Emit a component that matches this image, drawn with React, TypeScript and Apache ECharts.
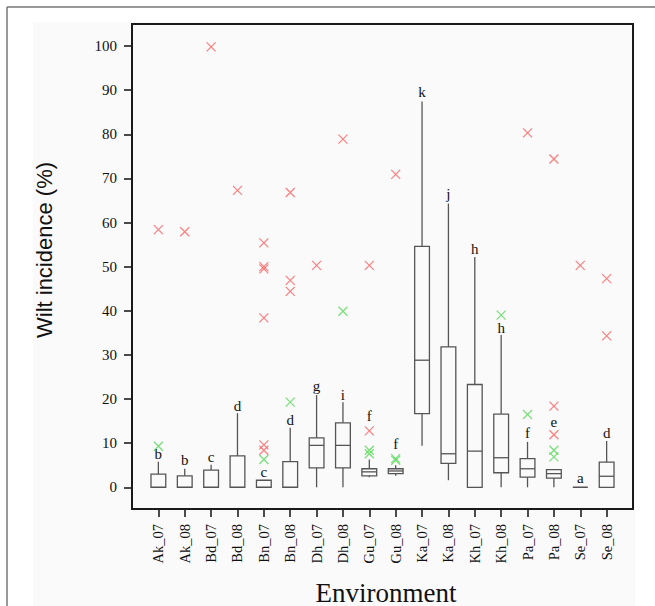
import React, { useEffect, useRef } from 'react';
import * as echarts from 'echarts';

const categories = ['Ak_07', 'Ak_08', 'Bd_07', 'Bd_08', 'Bn_07', 'Bn_08', 'Dh_07', 'Dh_08', 'Gu_07', 'Gu_08', 'Ka_07', 'Ka_08', 'Kh_07', 'Kh_08', 'Pa_07', 'Pa_08', 'Se_07', 'Se_08'];
const whiskerLow = [0, 0, 0, 0, 0, 0, 0, 0, 2.3, 2.6, 9.4, 1.6, 0, 0, 0, 0, 0, 0];
const q1 = [0, 0, 0, 0, 0, 0, 4.4, 4.4, 2.6, 3.1, 16.7, 5.4, 0, 3.3, 2.3, 2.1, 0, 0];
const median = [0, 0, 0, 0, 0, 0, 9.5, 9.5, 3.5, 3.7, 28.8, 7.6, 8.2, 6.7, 4.2, 3.1, 0, 2.5];
const q3 = [3.0, 2.6, 3.9, 7.1, 1.6, 5.8, 11.2, 14.6, 4.2, 4.2, 54.6, 31.8, 23.3, 16.6, 6.5, 4.0, 0, 5.7];
const whiskerHigh = [5.8, 4.2, 5.1, 16.8, 1.6, 13.5, 20.9, 19.3, 6.3, 5.0, 87.4, 64.3, 52.2, 34.5, 10.3, 4.0, 0, 10.5];
const groupLetters = ['b', 'b', 'c', 'd', 'c', 'd', 'g', 'i', 'f', 'f', 'k', 'j', 'h', 'h', 'f', 'e', 'a', 'd'];
const letterY = [7.5, 6.1, 6.9, 18.4, 3.5, 15.2, 23.0, 20.9, 16.2, 9.9, 89.5, 66.4, 54.0, 36.2, 12.2, 14.8, 2.0, 12.2];
const redOutliers: [string, number][] = [
  ['Ak_07', 58.4], ['Ak_08', 57.9], ['Bd_07', 99.8], ['Bd_08', 67.3],
  ['Bn_07', 55.4], ['Bn_07', 50.0], ['Bn_07', 49.5], ['Bn_07', 38.4], ['Bn_07', 9.6], ['Bn_07', 8.4],
  ['Bn_08', 66.8], ['Bn_08', 46.9], ['Bn_08', 44.4], ['Dh_07', 50.3], ['Dh_08', 78.9],
  ['Gu_07', 50.3], ['Gu_07', 12.8], ['Gu_08', 70.9], ['Pa_07', 80.3],
  ['Pa_08', 74.4], ['Pa_08', 18.4], ['Pa_08', 11.9], ['Se_07', 50.3], ['Se_08', 47.3], ['Se_08', 34.3],
];
const greenOutliers: [string, number][] = [
  ['Ak_07', 9.3], ['Bn_07', 6.3], ['Bn_08', 19.3], ['Dh_08', 39.9], ['Gu_07', 8.4], ['Gu_07', 7.6],
  ['Gu_08', 6.5], ['Gu_08', 6.1], ['Kh_08', 39.0], ['Pa_07', 16.5], ['Pa_08', 8.4], ['Pa_08', 6.9],
];
const axisCategories = ['', ...categories, ' '];

const SERIF = '"Liberation Serif", "Times New Roman", serif';
const SANS = '"Liberation Sans", Arial, sans-serif';
const CROSS = 'path://M0,0L10,10M10,0L0,10';

export default function App() {
  const ref = useRef<HTMLDivElement>(null);
  useEffect(() => {
    if (!ref.current) return;
    const chart = echarts.init(ref.current, undefined, { renderer: 'svg' });
    const catIdx = (c: string) => categories.indexOf(c) + 1;
    const boxData = categories.map((c, i) => [i + 1, whiskerLow[i], q1[i], median[i], q3[i], whiskerHigh[i]]);
    const letterData = categories.map((c, i) => [i + 1, letterY[i]]);
    const showFn = (_i: number, v: string) => v.trim() !== '';
    const tickStyle = { color: '#111', width: 1.5 };
    chart.setOption({
      animation: false,
      backgroundColor: '#ffffff',
      grid: [
        { left: 132, top: 24, width: 501, height: 485 },
        { left: 132, top: 46, width: 501, height: 441.3 },
      ],
      xAxis: [
        {
          gridIndex: 0,
          type: 'category',
          data: axisCategories,
          boundaryGap: false,
          axisLine: { show: false },
          axisTick: { show: true, length: 8, interval: showFn, lineStyle: tickStyle },
          axisLabel: { interval: showFn, rotate: 90, margin: 15, fontFamily: SERIF, fontSize: 14.5, color: '#111' },
          splitLine: { show: false },
        },
        {
          gridIndex: 1,
          type: 'category',
          data: axisCategories,
          boundaryGap: false,
          show: false,
        },
      ],
      yAxis: [
        { gridIndex: 0, type: 'value', min: 0, max: 1, show: false },
        {
          gridIndex: 1,
          type: 'value',
          min: 0,
          max: 100,
          interval: 10,
          axisLine: { show: false },
          axisTick: { show: true, length: 8, lineStyle: tickStyle },
          axisLabel: { margin: 15, fontFamily: SERIF, fontSize: 15, color: '#111' },
          splitLine: { show: false },
        },
      ],
      graphic: [
        { type: 'rect', z: -100, silent: true, shape: { x: 33, y: 22, width: 602, height: 590 }, style: { fill: '#fafafa' } },
        { type: 'line', z: 100, silent: true, shape: { x1: 7, y1: 7, x2: 655, y2: 7 }, style: { stroke: '#777', lineWidth: 1.5 } },
        { type: 'line', z: 100, silent: true, shape: { x1: 7, y1: 7, x2: 7, y2: 606 }, style: { stroke: '#777', lineWidth: 1.5 } },
        { type: 'rect', z: 100, silent: true, shape: { x: 132, y: 24, width: 501, height: 485 }, style: { fill: 'none', stroke: '#1a1a1a', lineWidth: 2 } },
        { type: 'text', z: 100, silent: true, x: 44, y: 250, rotation: Math.PI / 2, style: { text: 'Wilt incidence (%)', font: `22px ${SANS}`, fill: '#111', textAlign: 'center', textVerticalAlign: 'middle' } },
        { type: 'text', z: 100, silent: true, x: 386, y: 579, style: { text: 'Environment', font: `27px ${SERIF}`, fill: '#111', textAlign: 'center', textVerticalAlign: 'top' } },
      ],
      series: [
        {
          type: 'custom',
          xAxisIndex: 1,
          yAxisIndex: 1,
          clip: false,
          data: boxData,
          encode: { x: 0, y: [1, 2, 3, 4, 5] },
          renderItem: (_params: any, api: any) => {
            const xi = api.value(0);
            const w = api.size([1, 0])[0] * 0.56;
            const [cx, yLow] = api.coord([xi, api.value(1)]);
            const yQ1 = api.coord([xi, api.value(2)])[1];
            const yMed = api.coord([xi, api.value(3)])[1];
            const yQ3 = api.coord([xi, api.value(4)])[1];
            const yHigh = api.coord([xi, api.value(5)])[1];
            const style = { stroke: '#555', lineWidth: 1.3, fill: 'none' };
            return {
              type: 'group',
              children: [
                { type: 'line', shape: { x1: cx, y1: yQ3, x2: cx, y2: yHigh }, style },
                { type: 'line', shape: { x1: cx, y1: yQ1, x2: cx, y2: yLow }, style },
                { type: 'polygon', shape: { points: [[cx - w / 2, yQ3], [cx + w / 2, yQ3], [cx + w / 2, yQ1], [cx - w / 2, yQ1]] }, style },
                { type: 'line', shape: { x1: cx - w / 2, y1: yMed, x2: cx + w / 2, y2: yMed }, style },
              ],
            };
          },
        },
        {
          type: 'scatter',
          xAxisIndex: 1,
          yAxisIndex: 1,
          data: redOutliers.map(([c, v]) => [catIdx(c), v]),
          symbol: CROSS,
          symbolSize: 9,
          itemStyle: { color: 'transparent', borderColor: '#ff5f5f', borderWidth: 1.2 },
        },
        {
          type: 'scatter',
          xAxisIndex: 1,
          yAxisIndex: 1,
          data: greenOutliers.map(([c, v]) => [catIdx(c), v]),
          symbol: CROSS,
          symbolSize: 9,
          itemStyle: { color: 'transparent', borderColor: '#55d855', borderWidth: 1.2 },
        },
        {
          type: 'custom',
          xAxisIndex: 1,
          yAxisIndex: 1,
          clip: false,
          data: letterData,
          encode: { x: 0, y: 1 },
          renderItem: (params: any, api: any) => {
            const [x, y] = api.coord([api.value(0), api.value(1)]);
            return {
              type: 'text',
              x,
              y,
              style: { text: groupLetters[params.dataIndex], font: `15px ${SERIF}`, fill: '#111', textAlign: 'center', textVerticalAlign: 'middle' },
            };
          },
        },
      ],
    });
    return () => chart.dispose();
  }, []);
  return <div ref={ref} style={{ position: 'fixed', left: 0, top: 0, width: 655, height: 606 }} />;
}
